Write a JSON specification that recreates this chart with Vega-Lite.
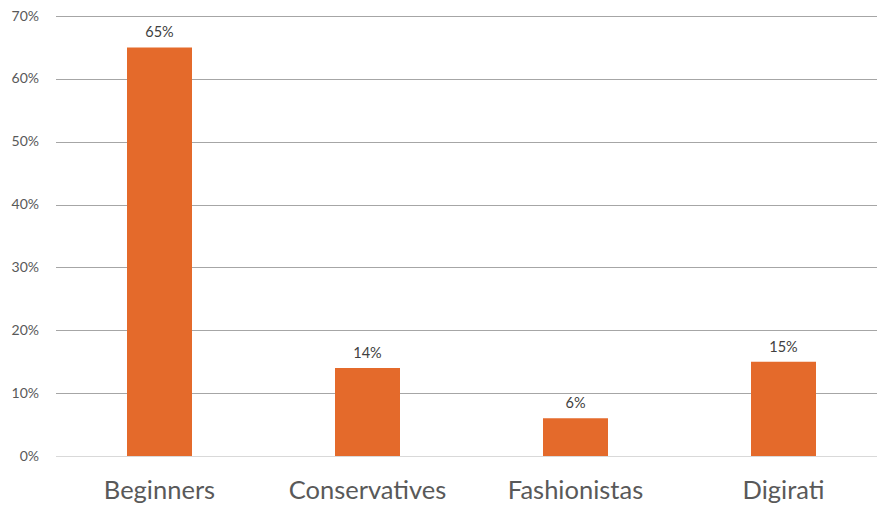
{
  "$schema": "https://vega.github.io/schema/vega-lite/v6.json",
  "autosize": "none",
  "padding": {"left": 55.5, "top": 16, "right": 0, "bottom": 51},
  "width": 832,
  "height": 440,
  "background": "white",
  "config": {"view": {"stroke": null}, "font": "Lato"},
  "data": {"values": [
    {"segment": "Beginners", "share": 0.65},
    {"segment": "Conservatives", "share": 0.14},
    {"segment": "Fashionistas", "share": 0.06},
    {"segment": "Digirati", "share": 0.15}
  ]},
  "encoding": {
    "x": {"field": "segment", "type": "nominal", "sort": null,
      "scale": {"paddingInner": 0.6875, "paddingOuter": 0.34375},
      "axis": {"title": null, "labelAngle": 0, "domain": false, "ticks": false,
        "labelFontSize": 25.5, "labelColor": "#595959", "labelPadding": 22, "labelFont": "Lato"}},
    "y": {"field": "share", "type": "quantitative",
      "scale": {"domain": [0, 0.7]},
      "axis": {"title": null, "format": ".0%", "values": [0, 0.1, 0.2, 0.3, 0.4, 0.5, 0.6, 0.7],
        "domain": false, "ticks": false, "labelFontSize": 14, "labelColor": "#595959",
        "labelPadding": 17, "labelFont": "Lato",
        "gridColor": {"condition": {"test": "datum.value === 0", "value": "#d9d9d9"}, "value": "#a6a6a6"},
        "gridWidth": 1}}
  },
  "layer": [
    {"mark": {"type": "bar", "color": "#E46A2B"}},
    {"mark": {"type": "text", "baseline": "bottom", "dy": -7, "fontSize": 14.5, "color": "#404040", "font": "Lato"},
      "encoding": {"text": {"field": "share", "type": "quantitative", "format": ".0%"}}}
  ]
}
